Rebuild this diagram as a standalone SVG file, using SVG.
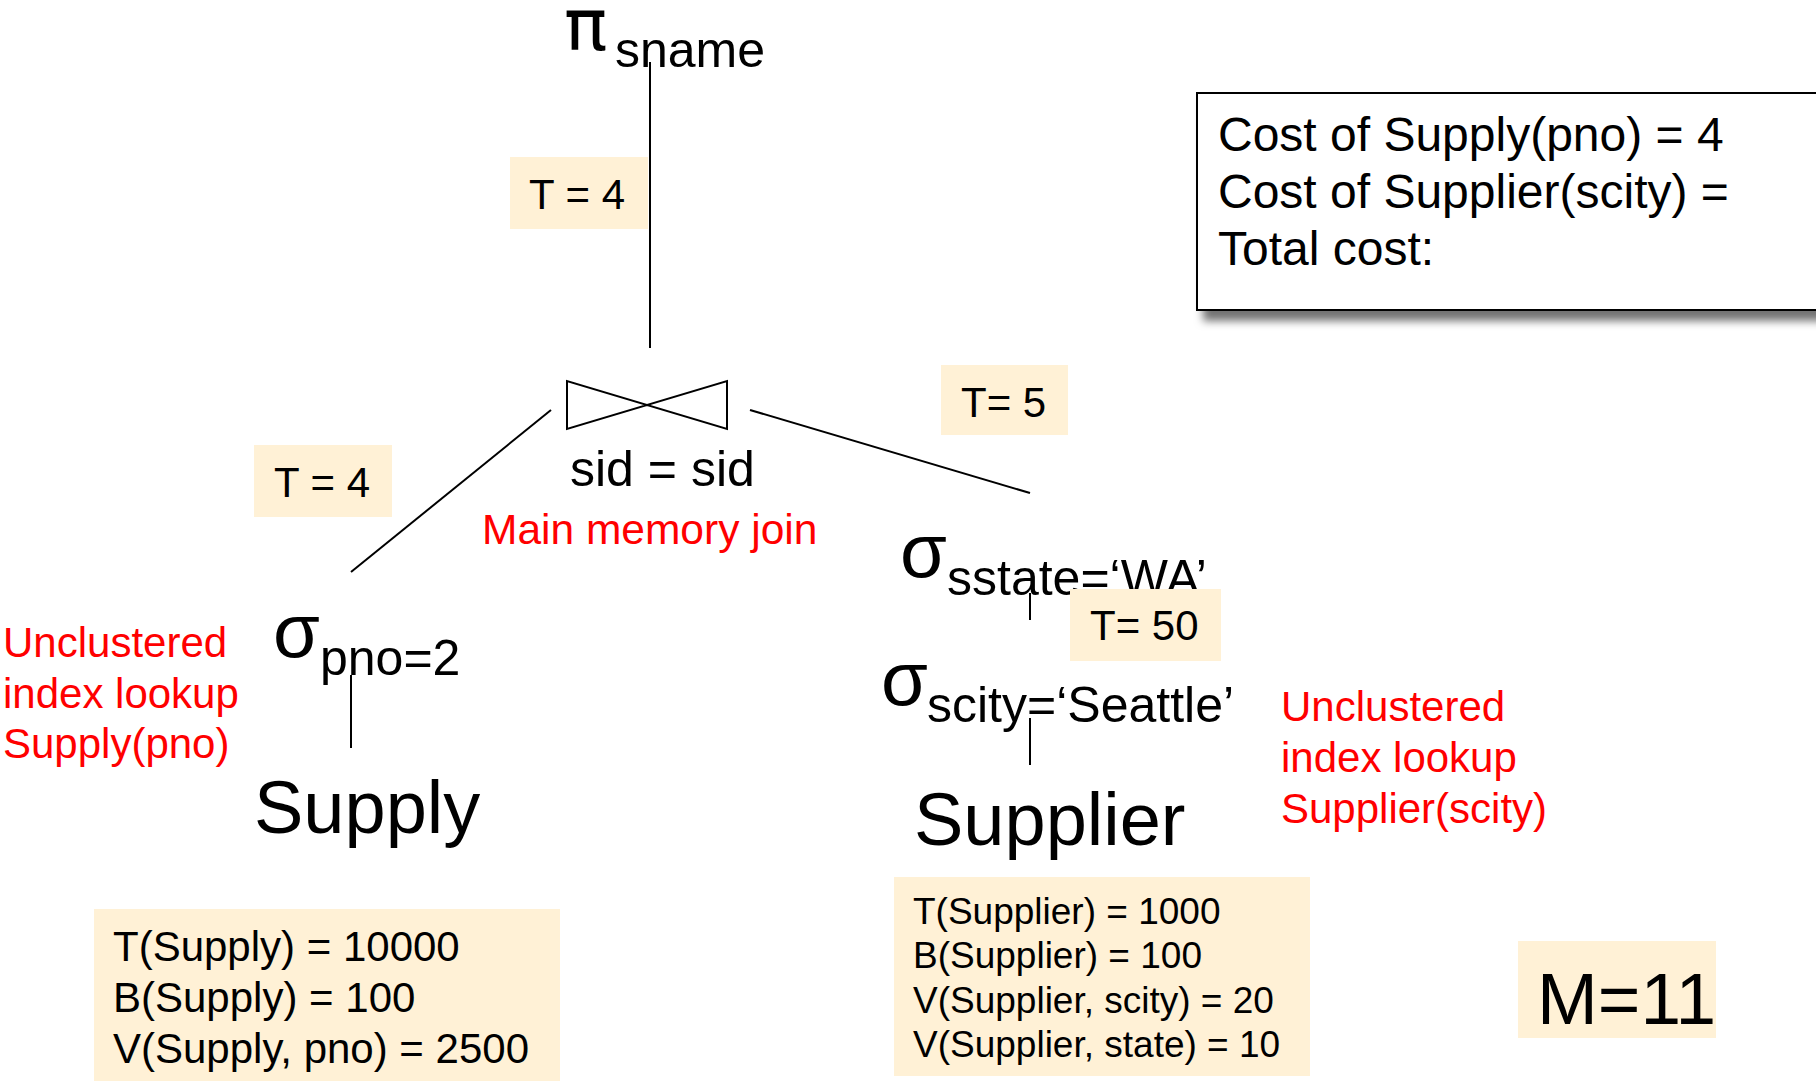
<svg xmlns="http://www.w3.org/2000/svg" width="1816" height="1081" viewBox="0 0 1816 1081">
  <defs>
    <filter id="shadow" x="-10%" y="-20%" width="130%" height="150%">
      <feDropShadow dx="7" dy="10" stdDeviation="4" flood-color="#000" flood-opacity="0.55"/>
    </filter>
  </defs>
  <style>
    text { font-family: "Liberation Sans", Arial, sans-serif; fill: #000; }
    .greek { font-size: 76px; }
    .pi { font-family: "DejaVu Sans", sans-serif; font-size: 72px; }
    .sub { font-size: 50px; }
    .rel { font-size: 74px; }
    .cond { font-size: 50px; }
    .note { font-size: 42px; fill: #FF0000; }
    .wide { font-size: 42.5px; }
    .tag { fill: #FFF1D6; }
    .tagtxt { font-size: 42px; }
    .stat { font-size: 42px; }
    .stat2 { font-size: 37px; }
    .cost { font-size: 48px; }
    .edge { stroke: #000; stroke-width: 2; fill: none; }
  </style>

  <rect width="1816" height="1081" fill="#fff"/>

  <!-- projection on sname -->
  <g id="proj">
    <text><tspan class="pi" x="564" y="50">π</tspan><tspan class="sub" x="615" y="67">sname</tspan></text>
  </g>

  <!-- join on sid -->
  <g id="join">
    <path class="edge" d="M567,381 L567,429 L727,381 L727,429 Z"/>
    <text class="cond" x="570" y="486">sid = sid</text>
    <text class="note wide" x="482" y="544">Main memory join</text>
  </g>

  <!-- selection on pno -->
  <g id="sel-pno">
    <text><tspan class="greek" x="273" y="657">σ</tspan><tspan class="sub" x="320" y="675">pno=2</tspan></text>
  </g>

  <g id="supply">
    <text class="rel" x="254" y="833">Supply</text>
  </g>

  <!-- selection on sstate -->
  <g id="sel-sstate">
    <text><tspan class="greek" x="900" y="577">σ</tspan><tspan class="sub" x="947" y="595">sstate=‘WA’</tspan></text>
  </g>

  <!-- selection on scity -->
  <g id="sel-scity">
    <text><tspan class="greek" x="881" y="705">σ</tspan><tspan class="sub" x="927" y="722">scity=‘Seattle’</tspan></text>
  </g>

  <g id="supplier">
    <text class="rel" x="914" y="845">Supplier</text>
  </g>

  <!-- plan edges -->
  <g id="connectors">
    <line class="edge" x1="650" y1="62" x2="650" y2="348"/>
    <line class="edge" x1="551" y1="410" x2="351" y2="572"/>
    <line class="edge" x1="750" y1="410" x2="1030" y2="493"/>
    <line class="edge" x1="351" y1="675" x2="351" y2="748"/>
    <line class="edge" x1="1030" y1="593" x2="1030" y2="620"/>
    <line class="edge" x1="1030" y1="718" x2="1030" y2="765"/>
  </g>

  <!-- cardinality tags on edges -->
  <g id="t-top">
    <rect class="tag" x="510" y="157" width="138" height="72"/>
    <text class="tagtxt" x="529" y="209">T = 4</text>
  </g>
  <g id="t-left">
    <rect class="tag" x="254" y="445" width="138" height="72"/>
    <text class="tagtxt" x="274" y="497">T = 4</text>
  </g>
  <g id="t-right">
    <rect class="tag" x="941" y="365" width="127" height="70"/>
    <text class="tagtxt" x="961" y="417">T= 5</text>
  </g>
  <g id="t-mid">
    <rect class="tag" x="1070" y="589" width="151" height="72"/>
    <text class="tagtxt" x="1090" y="640">T= 50</text>
  </g>

  <!-- access path notes -->
  <g id="note-supply">
    <text class="note" x="3" y="657">Unclustered</text>
    <text class="note" x="3" y="708">index lookup</text>
    <text class="note" x="3" y="758">Supply(pno)</text>
  </g>
  <g id="note-supplier">
    <text class="note" x="1281" y="721">Unclustered</text>
    <text class="note" x="1281" y="772">index lookup</text>
    <text class="note" x="1281" y="823">Supplier(scity)</text>
  </g>

  <!-- relation statistics -->
  <g id="stats-supply">
    <rect class="tag" x="94" y="909" width="466" height="172"/>
    <text class="stat" x="113" y="961">T(Supply) = 10000</text>
    <text class="stat" x="113" y="1012">B(Supply) = 100</text>
    <text class="stat" x="113" y="1063">V(Supply, pno) = 2500</text>
  </g>
  <g id="stats-supplier">
    <rect class="tag" x="894" y="877" width="416" height="199"/>
    <text class="stat2" x="913" y="924">T(Supplier) = 1000</text>
    <text class="stat2" x="913" y="968">B(Supplier) = 100</text>
    <text class="stat2" x="913" y="1013">V(Supplier, scity) = 20</text>
    <text class="stat2" x="913" y="1057">V(Supplier, state) = 10</text>
  </g>

  <!-- cost summary -->
  <g id="cost">
    <rect x="1197" y="93" width="700" height="217" fill="#fff" stroke="#000" stroke-width="2" filter="url(#shadow)"/>
    <text class="cost" x="1218" y="151">Cost of Supply(pno) = 4</text>
    <text class="cost" x="1218" y="208">Cost of Supplier(scity) =</text>
    <text class="cost" x="1218" y="265">Total cost:</text>
  </g>

  <g id="memory">
    <rect class="tag" x="1518" y="941" width="198" height="97"/>
    <text x="1537" y="1024" font-size="73">M=11</text>
  </g>
</svg>
